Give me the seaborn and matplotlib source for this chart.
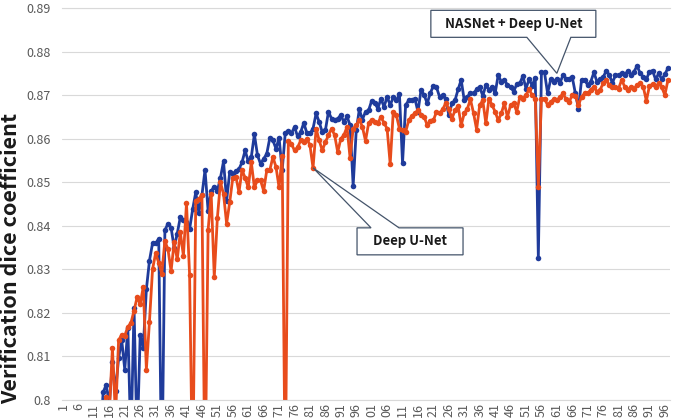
import numpy as np
import pandas as pd
import seaborn as sns
import matplotlib.pyplot as plt
import matplotlib.transforms as mtransforms
from matplotlib.patches import Polygon

# values (epochs before 13 sit below 0.8 and are not visible)
first_epoch = 13

nasnet_dice = [
    0.790, 0.8018, 0.8035, 0.7990, 0.8087, 0.8020, 0.8096, 0.8138, 0.8070, 0.8165,
    0.7900, 0.8212, 0.7900, 0.8150, 0.8120, 0.8254, 0.8320, 0.8360, 0.8360, 0.8370,
    0.7800, 0.8390, 0.8405, 0.8396, 0.8350, 0.8382, 0.8420, 0.8413, 0.8408, 0.8392,
    0.8438, 0.8477, 0.8430, 0.8470, 0.8528, 0.8435, 0.8480, 0.8490, 0.8480, 0.8510,
    0.8548, 0.8458, 0.8523, 0.8520, 0.8525, 0.8530, 0.8546, 0.8573, 0.8548, 0.8558,
    0.8610, 0.8562, 0.8542, 0.8554, 0.8565, 0.8602, 0.8596, 0.8577, 0.8602, 0.8527,
    0.8613, 0.8618, 0.8612, 0.8627, 0.8605, 0.8615, 0.8636, 0.8613, 0.8612, 0.8623,
    0.8658, 0.8638, 0.8615, 0.8619, 0.8662, 0.8646, 0.8642, 0.8646, 0.8654, 0.8638,
    0.8651, 0.8631, 0.8492, 0.8619, 0.8667, 0.8644, 0.8662, 0.8665, 0.8687, 0.8682,
    0.8669, 0.8692, 0.8673, 0.8696, 0.8677, 0.8695, 0.8688, 0.8702, 0.8544, 0.8677,
    0.8688, 0.8688, 0.8692, 0.8662, 0.8712, 0.8700, 0.8681, 0.8705, 0.8721, 0.8718,
    0.8696, 0.8700, 0.8690, 0.8654, 0.8681, 0.8688, 0.8713, 0.8735, 0.8688, 0.8696,
    0.8705, 0.8704, 0.8713, 0.8719, 0.8698, 0.8723, 0.8712, 0.8719, 0.8704, 0.8746,
    0.8731, 0.8735, 0.8723, 0.8719, 0.8708, 0.8725, 0.8727, 0.8744, 0.8715, 0.8736,
    0.8722, 0.8740, 0.8327, 0.8752, 0.8752, 0.8704, 0.8736, 0.8731, 0.8738, 0.8728,
    0.8746, 0.8738, 0.8738, 0.8741, 0.8704, 0.8669, 0.8735, 0.8735, 0.8723, 0.8731,
    0.8752, 0.8731, 0.8736, 0.8741, 0.8756, 0.8746, 0.8728, 0.8746, 0.8746, 0.8750,
    0.8746, 0.8756, 0.8746, 0.8754, 0.8767, 0.8750, 0.8742, 0.8736, 0.8754, 0.8756,
    0.8736, 0.8750, 0.8736, 0.8748, 0.8762,
]

deep_unet_dice = [
    0.790, 0.7985, 0.8006, 0.7970, 0.8120, 0.7960, 0.8137, 0.8150, 0.8148, 0.8168,
    0.8177, 0.8205, 0.8236, 0.8220, 0.8260, 0.8070, 0.8180, 0.8300, 0.8337, 0.8315,
    0.8290, 0.8365, 0.8346, 0.8296, 0.8362, 0.8323, 0.8385, 0.8331, 0.8452, 0.8288,
    0.7800, 0.8458, 0.8462, 0.8470, 0.7800, 0.8390, 0.8473, 0.8282, 0.8418, 0.8500,
    0.8473, 0.8405, 0.8454, 0.8510, 0.8513, 0.8477, 0.8528, 0.8510, 0.8488, 0.8546,
    0.8488, 0.8505, 0.8504, 0.8480, 0.8527, 0.8528, 0.8558, 0.8535, 0.8488, 0.8560,
    0.7800, 0.8595, 0.8588, 0.8573, 0.8580, 0.8596, 0.8592, 0.8600, 0.8585, 0.8533,
    0.8623, 0.8596, 0.8573, 0.8592, 0.8608, 0.8623, 0.8608, 0.8569, 0.8600, 0.8608,
    0.8627, 0.8556, 0.8623, 0.8631, 0.8644, 0.8627, 0.8595, 0.8635, 0.8644, 0.8638,
    0.8636, 0.8650, 0.8636, 0.8623, 0.8542, 0.8662, 0.8654, 0.8623, 0.8621, 0.8615,
    0.8642, 0.8652, 0.8658, 0.8665, 0.8654, 0.8650, 0.8631, 0.8641, 0.8642, 0.8662,
    0.8659, 0.8667, 0.8682, 0.8667, 0.8646, 0.8665, 0.8675, 0.8631, 0.8658, 0.8669,
    0.8690, 0.8659, 0.8621, 0.8677, 0.8688, 0.8635, 0.8692, 0.8677, 0.8662, 0.8642,
    0.8658, 0.8681, 0.8650, 0.8677, 0.8681, 0.8662, 0.8696, 0.8692, 0.8700, 0.8713,
    0.8700, 0.8692, 0.8490, 0.8692, 0.8692, 0.8677, 0.8685, 0.8690, 0.8688, 0.8695,
    0.8704, 0.8690, 0.8685, 0.8700, 0.8698, 0.8677, 0.8696, 0.8704, 0.8704, 0.8712,
    0.8719, 0.8708, 0.8712, 0.8727, 0.8735, 0.8723, 0.8718, 0.8719, 0.8715, 0.8735,
    0.8719, 0.8712, 0.8719, 0.8715, 0.8723, 0.8727, 0.8719, 0.8687, 0.8721, 0.8725,
    0.8719, 0.8727, 0.8718, 0.8700, 0.8735,
]

series_names = ['NASNet + Deep U-Net', 'Deep U-Net']
series_colors = ['#1f3b9b', '#e84c1c']
tick_epochs = list(range(1, 197, 5))
# tick labels as they appear in the chart (hundreds digit cut off at the image edge)
tick_labels = ['1', '6', '11', '16', '21', '26', '31', '36', '41', '46',
               '51', '56', '61', '66', '71', '76', '81', '86', '91', '96',
               '01', '06', '11', '16', '21', '26', '31', '36', '41', '46',
               '51', '56', '61', '66', '71', '76', '81', '86', '91', '96']
y_ticks = [0.80, 0.81, 0.82, 0.83, 0.84, 0.85, 0.86, 0.87, 0.88, 0.89]
y_tick_labels = ['0.8', '0.81', '0.82', '0.83', '0.84', '0.85', '0.86', '0.87', '0.88', '0.89']

epochs = np.arange(first_epoch, first_epoch + len(nasnet_dice))
df = pd.concat([
    pd.DataFrame({'epoch': epochs, 'dice': nasnet_dice, 'model': series_names[0]}),
    pd.DataFrame({'epoch': epochs, 'dice': deep_unet_dice, 'model': series_names[1]}),
])

sns.set_theme(style='white')
plt.rcParams['font.family'] = ['Noto Sans CJK KR', 'DejaVu Sans']

W, H = 674, 419
fig = plt.figure(figsize=(W / 100, H / 100), dpi=100)
ax = fig.add_axes([61.5 / W, 19 / H, 608 / W, 392 / H])

sns.lineplot(data=df, x='epoch', y='dice', hue='model', hue_order=series_names,
             palette=series_colors, marker='o', markersize=4, markeredgewidth=0,
             linewidth=2, legend=False, ax=ax)

ax.set_xlim(0.5, 197.5)
ax.set_ylim(0.8, 0.89)
ax.set_xticks(tick_epochs)
ax.set_xticklabels(tick_labels, rotation=90, fontsize=9, color='#595959')
ax.set_yticks(y_ticks)
ax.set_yticklabels(y_tick_labels, fontsize=9, color='#595959')
ax.tick_params(axis='x', length=0, pad=2)
ax.tick_params(axis='y', length=0, pad=8)
ax.set_xlabel('')
ax.set_ylabel('')
ax.grid(axis='y', color='#d9d9d9', linewidth=0.8)
ax.grid(axis='x', visible=False)
for side in ['left', 'right']:
    ax.spines[side].set_visible(False)
for side in ['top', 'bottom']:
    ax.spines[side].set_color('#d9d9d9')
    ax.spines[side].set_linewidth(0.8)

fig.text(21 / W, 1 - 258 / H, 'Verification dice coefficient', rotation=90,
         ha='right', va='center', fontsize=15.5, fontweight='bold', color='#1a1a1a')


# callout box with a wedge pointing at (tip_x, tip_y); box/base given as pixel offsets from the tip
def callout(ax, tip_x, tip_y, box, base, label):
    x0, x1, y0, y1 = box
    b0, b1 = base
    trans = mtransforms.Affine2D() + mtransforms.ScaledTranslation(tip_x, tip_y, ax.transData)
    if y0 > 0:  # box above the tip, wedge on its bottom edge
        pts = [(x0, y0), (b0, y0), (0, 0), (b1, y0), (x1, y0), (x1, y1), (x0, y1)]
    else:       # box below the tip, wedge on its top edge
        pts = [(x0, y1), (b0, y1), (0, 0), (b1, y1), (x1, y1), (x1, y0), (x0, y0)]
    poly = Polygon(pts, closed=True, facecolor='white', edgecolor='#44546a',
                   linewidth=0.9, transform=trans, clip_on=False, zorder=10)
    ax.add_patch(poly)
    ax.text((x0 + x1) / 2, (y0 + y1) / 2, label, transform=trans, ha='center', va='center',
            fontsize=9.5, fontweight='bold', color='#1a1a1a', zorder=11)


callout(ax, 161, 0.875, (-126, 39, 36, 63), (-30, 14), 'NASNet + Deep U-Net')
callout(ax, 82, 0.8533, (44, 150, -87, -60), (58, 86), 'Deep U-Net')

fig.savefig('out.png', dpi=100)
